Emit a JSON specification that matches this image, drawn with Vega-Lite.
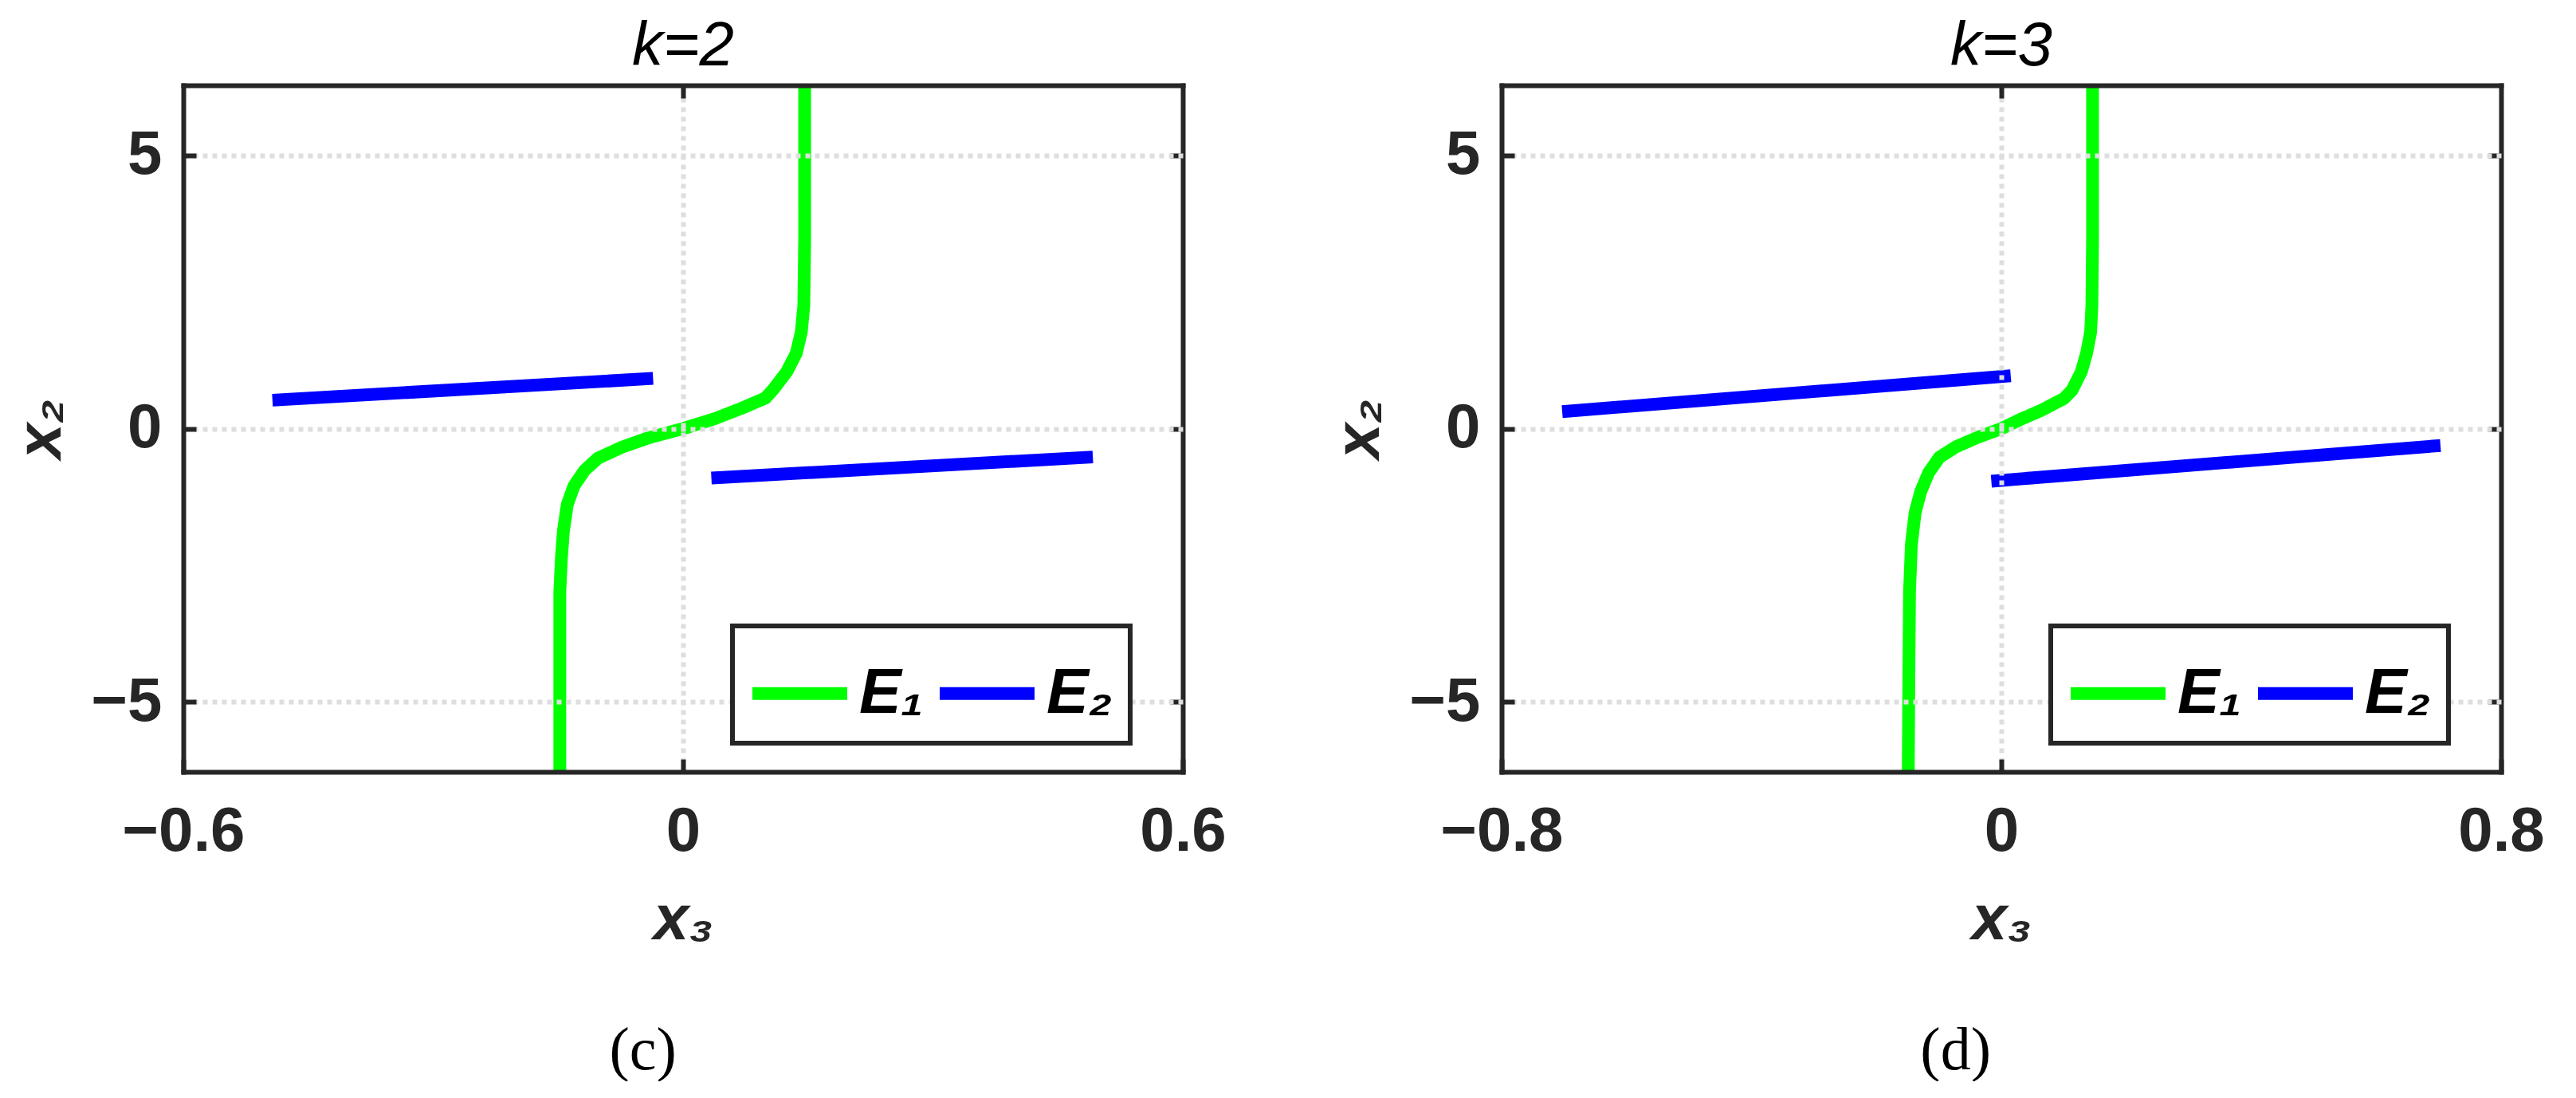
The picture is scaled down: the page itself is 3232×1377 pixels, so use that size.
{
  "$schema": "https://vega.github.io/schema/vega-lite/v6.json",
  "background": "white",
  "padding": {"left": 11, "top": 20, "right": 0, "bottom": 0},
  "datasets": {
    "pts": [
      {"k": 2, "s": "E₁", "g": 0, "o": 0, "x3": -0.148, "x2": -6.2832},
      {"k": 2, "s": "E₁", "g": 0, "o": 1, "x3": -0.148, "x2": -4.5},
      {"k": 2, "s": "E₁", "g": 0, "o": 2, "x3": -0.148, "x2": -3.0},
      {"k": 2, "s": "E₁", "g": 0, "o": 3, "x3": -0.146, "x2": -2.36},
      {"k": 2, "s": "E₁", "g": 0, "o": 4, "x3": -0.1437, "x2": -1.88},
      {"k": 2, "s": "E₁", "g": 0, "o": 5, "x3": -0.139, "x2": -1.39},
      {"k": 2, "s": "E₁", "g": 0, "o": 6, "x3": -0.131, "x2": -1.05},
      {"k": 2, "s": "E₁", "g": 0, "o": 7, "x3": -0.118, "x2": -0.76},
      {"k": 2, "s": "E₁", "g": 0, "o": 8, "x3": -0.102, "x2": -0.54},
      {"k": 2, "s": "E₁", "g": 0, "o": 9, "x3": -0.0734, "x2": -0.34},
      {"k": 2, "s": "E₁", "g": 0, "o": 10, "x3": -0.0415, "x2": -0.17},
      {"k": 2, "s": "E₁", "g": 0, "o": 11, "x3": 0.0, "x2": 0.0},
      {"k": 2, "s": "E₁", "g": 0, "o": 12, "x3": 0.038, "x2": 0.18},
      {"k": 2, "s": "E₁", "g": 0, "o": 13, "x3": 0.070, "x2": 0.37},
      {"k": 2, "s": "E₁", "g": 0, "o": 14, "x3": 0.099, "x2": 0.56},
      {"k": 2, "s": "E₁", "g": 0, "o": 15, "x3": 0.1085, "x2": 0.72},
      {"k": 2, "s": "E₁", "g": 0, "o": 16, "x3": 0.1245, "x2": 1.04},
      {"k": 2, "s": "E₁", "g": 0, "o": 17, "x3": 0.136, "x2": 1.38},
      {"k": 2, "s": "E₁", "g": 0, "o": 18, "x3": 0.142, "x2": 1.77},
      {"k": 2, "s": "E₁", "g": 0, "o": 19, "x3": 0.145, "x2": 2.25},
      {"k": 2, "s": "E₁", "g": 0, "o": 20, "x3": 0.146, "x2": 3.47},
      {"k": 2, "s": "E₁", "g": 0, "o": 21, "x3": 0.146, "x2": 6.2832},
      {"k": 2, "s": "E₂", "g": 1, "o": 0, "x3": -0.493, "x2": 0.52},
      {"k": 2, "s": "E₂", "g": 1, "o": 1, "x3": -0.036, "x2": 0.918},
      {"k": 2, "s": "E₂", "g": 2, "o": 0, "x3": 0.034, "x2": -0.904},
      {"k": 2, "s": "E₂", "g": 2, "o": 1, "x3": 0.492, "x2": -0.52},
      {"k": 3, "s": "E₁", "g": 0, "o": 0, "x3": -0.149, "x2": -6.2832},
      {"k": 3, "s": "E₁", "g": 0, "o": 1, "x3": -0.148, "x2": -4.5},
      {"k": 3, "s": "E₁", "g": 0, "o": 2, "x3": -0.147, "x2": -3.0},
      {"k": 3, "s": "E₁", "g": 0, "o": 3, "x3": -0.144, "x2": -2.12},
      {"k": 3, "s": "E₁", "g": 0, "o": 4, "x3": -0.138, "x2": -1.54},
      {"k": 3, "s": "E₁", "g": 0, "o": 5, "x3": -0.129, "x2": -1.15},
      {"k": 3, "s": "E₁", "g": 0, "o": 6, "x3": -0.1165, "x2": -0.81},
      {"k": 3, "s": "E₁", "g": 0, "o": 7, "x3": -0.0995, "x2": -0.53},
      {"k": 3, "s": "E₁", "g": 0, "o": 8, "x3": -0.072, "x2": -0.33},
      {"k": 3, "s": "E₁", "g": 0, "o": 9, "x3": -0.038, "x2": -0.16},
      {"k": 3, "s": "E₁", "g": 0, "o": 10, "x3": 0.0, "x2": 0.0},
      {"k": 3, "s": "E₁", "g": 0, "o": 11, "x3": 0.030, "x2": 0.165},
      {"k": 3, "s": "E₁", "g": 0, "o": 12, "x3": 0.064, "x2": 0.335},
      {"k": 3, "s": "E₁", "g": 0, "o": 13, "x3": 0.100, "x2": 0.55},
      {"k": 3, "s": "E₁", "g": 0, "o": 14, "x3": 0.113, "x2": 0.70},
      {"k": 3, "s": "E₁", "g": 0, "o": 15, "x3": 0.128, "x2": 1.04},
      {"k": 3, "s": "E₁", "g": 0, "o": 16, "x3": 0.1365, "x2": 1.38},
      {"k": 3, "s": "E₁", "g": 0, "o": 17, "x3": 0.143, "x2": 1.77},
      {"k": 3, "s": "E₁", "g": 0, "o": 18, "x3": 0.145, "x2": 2.25},
      {"k": 3, "s": "E₁", "g": 0, "o": 19, "x3": 0.146, "x2": 3.47},
      {"k": 3, "s": "E₁", "g": 0, "o": 20, "x3": 0.146, "x2": 6.2832},
      {"k": 3, "s": "E₂", "g": 1, "o": 0, "x3": -0.703, "x2": 0.31},
      {"k": 3, "s": "E₂", "g": 1, "o": 1, "x3": 0.015, "x2": 0.967},
      {"k": 3, "s": "E₂", "g": 2, "o": 0, "x3": -0.016, "x2": -0.962},
      {"k": 3, "s": "E₂", "g": 2, "o": 1, "x3": 0.703, "x2": -0.31}
    ]
  },
  "hconcat": [
    {
      "title": {"text": "(c)", "orient": "bottom", "anchor": "middle", "font": "Liberation Serif", "fontSize": 76, "fontWeight": "normal", "fontStyle": "normal", "color": "black", "dx": 32, "offset": 88},
      "resolve": {"legend": {"color": "independent"}, "scale": {"color": "independent"}},
      "vconcat": [
        {
          "title": {"text": "k=2", "anchor": "middle", "font": "Liberation Sans", "fontSize": 78, "fontStyle": "italic", "fontWeight": "normal", "color": "black", "offset": 1},
          "width": 1254,
          "height": 861,
          "data": {"name": "pts"},
          "transform": [{"filter": "datum.k == 2"}],
          "resolve": {"axis": {"x": "independent", "y": "independent"}},
          "layer": [
            {
              "transform": [{"filter": "datum.s == 'E₁'"}],
              "mark": {"type": "line", "strokeWidth": 16, "strokeCap": "butt", "strokeJoin": "round"},
              "encoding": {
                "x": {"field": "x3", "type": "quantitative", "scale": {"domain": [-0.6, 0.6], "nice": false, "zero": false},
                      "axis": {"orient": "bottom", "values": [-0.6, 0, 0.6], "format": "~g", "labelFlush": false, "title": "x₃", "grid": false, "labelPadding": 52, "titlePadding": 32, "zindex": 2}},
                "y": {"field": "x2", "type": "quantitative", "scale": {"domain": [-6.2832, 6.2832], "nice": false, "zero": false},
                      "axis": {"orient": "left", "values": [-5, 0, 5], "format": "~g", "title": "x₂", "grid": true, "labelPadding": 43, "titlePadding": 22, "zindex": 2}},
                "color": {"field": "s", "type": "nominal", "scale": {"domain": ["E₁", "E₂"], "range": ["#00ff00", "#0000ff"]}, "legend": {"title": null}},
                "detail": {"field": "g"},
                "order": {"field": "o"}
              }
            },
            {
              "transform": [{"filter": "datum.s == 'E₂'"}],
              "mark": {"type": "line", "strokeWidth": 16, "strokeCap": "butt", "strokeJoin": "round"},
              "encoding": {
                "x": {"field": "x3", "type": "quantitative", "scale": {"domain": [-0.6, 0.6], "nice": false, "zero": false},
                      "axis": {"orient": "top", "values": [0], "labels": false, "title": null, "grid": true, "zindex": 1}},
                "y": {"field": "x2", "type": "quantitative", "scale": {"domain": [-6.2832, 6.2832], "nice": false, "zero": false},
                      "axis": {"orient": "right", "values": [-5, 0, 5], "labels": false, "title": null, "grid": false, "zindex": 1}},
                "color": {"field": "s", "type": "nominal", "scale": {"domain": ["E₁", "E₂"], "range": ["#00ff00", "#0000ff"]}, "legend": {"title": null}},
                "detail": {"field": "g"},
                "order": {"field": "o"}
              }
            }
          ]
        }
      ]
    },
    {
      "title": {"text": "(d)", "orient": "bottom", "anchor": "middle", "font": "Liberation Serif", "fontSize": 76, "fontWeight": "normal", "fontStyle": "normal", "color": "black", "dx": 25, "offset": 88},
      "resolve": {"legend": {"color": "independent"}, "scale": {"color": "independent"}},
      "vconcat": [
        {
          "title": {"text": "k=3", "anchor": "middle", "font": "Liberation Sans", "fontSize": 78, "fontStyle": "italic", "fontWeight": "normal", "color": "black", "offset": 1},
          "width": 1254,
          "height": 861,
          "data": {"name": "pts"},
          "transform": [{"filter": "datum.k == 3"}],
          "resolve": {"axis": {"x": "independent", "y": "independent"}},
          "layer": [
            {
              "transform": [{"filter": "datum.s == 'E₁'"}],
              "mark": {"type": "line", "strokeWidth": 16, "strokeCap": "butt", "strokeJoin": "round"},
              "encoding": {
                "x": {"field": "x3", "type": "quantitative", "scale": {"domain": [-0.8, 0.8], "nice": false, "zero": false},
                      "axis": {"orient": "bottom", "values": [-0.8, 0, 0.8], "format": "~g", "labelFlush": false, "title": "x₃", "grid": false, "labelPadding": 52, "titlePadding": 32, "zindex": 2}},
                "y": {"field": "x2", "type": "quantitative", "scale": {"domain": [-6.2832, 6.2832], "nice": false, "zero": false},
                      "axis": {"orient": "left", "values": [-5, 0, 5], "format": "~g", "title": "x₂", "grid": true, "labelPadding": 43, "titlePadding": 22, "zindex": 2}},
                "color": {"field": "s", "type": "nominal", "scale": {"domain": ["E₁", "E₂"], "range": ["#00ff00", "#0000ff"]}, "legend": {"title": null}},
                "detail": {"field": "g"},
                "order": {"field": "o"}
              }
            },
            {
              "transform": [{"filter": "datum.s == 'E₂'"}],
              "mark": {"type": "line", "strokeWidth": 16, "strokeCap": "butt", "strokeJoin": "round"},
              "encoding": {
                "x": {"field": "x3", "type": "quantitative", "scale": {"domain": [-0.8, 0.8], "nice": false, "zero": false},
                      "axis": {"orient": "top", "values": [0], "labels": false, "title": null, "grid": true, "zindex": 1}},
                "y": {"field": "x2", "type": "quantitative", "scale": {"domain": [-6.2832, 6.2832], "nice": false, "zero": false},
                      "axis": {"orient": "right", "values": [-5, 0, 5], "labels": false, "title": null, "grid": false, "zindex": 1}},
                "color": {"field": "s", "type": "nominal", "scale": {"domain": ["E₁", "E₂"], "range": ["#00ff00", "#0000ff"]}, "legend": {"title": null}},
                "detail": {"field": "g"},
                "order": {"field": "o"}
              }
            }
          ]
        }
      ]
    }
  ],
  "spacing": 126,
  "resolve": {"scale": {"x": "independent", "y": "independent", "color": "independent"}, "legend": {"color": "independent"}},
  "config": {
    "view": {"stroke": null},
    "axis": {
      "labelFont": "Liberation Sans", "labelFontSize": 78, "labelFontWeight": "bold", "labelColor": "#262626",
      "titleFont": "Liberation Sans", "titleFontSize": 80, "titleFontWeight": "bold", "titleFontStyle": "italic", "titleColor": "#262626",
      "domainColor": "#262626", "domainWidth": 6, "domainCap": "square",
      "tickColor": "#262626", "tickWidth": 6, "tickSize": -16,
      "gridColor": "#dedede", "gridDash": [6, 6], "gridWidth": 6
    },
    "legend": {
      "orient": "none", "legendX": 689, "legendY": 678, "direction": "horizontal", "zindex": 3,
      "symbolType": "M-1.0917,0H1.0917", "symbolSize": 11881, "symbolStrokeWidth": 16,
      "labelFont": "Liberation Sans", "labelFontSize": 79, "labelFontStyle": "italic", "labelFontWeight": "bold", "labelColor": "black",
      "labelOffset": 12, "columnPadding": -12, "padding": 22, "labelLimit": 600,
      "strokeColor": "#262626", "strokeWidth": 6, "fillColor": "white"
    }
  }
}
